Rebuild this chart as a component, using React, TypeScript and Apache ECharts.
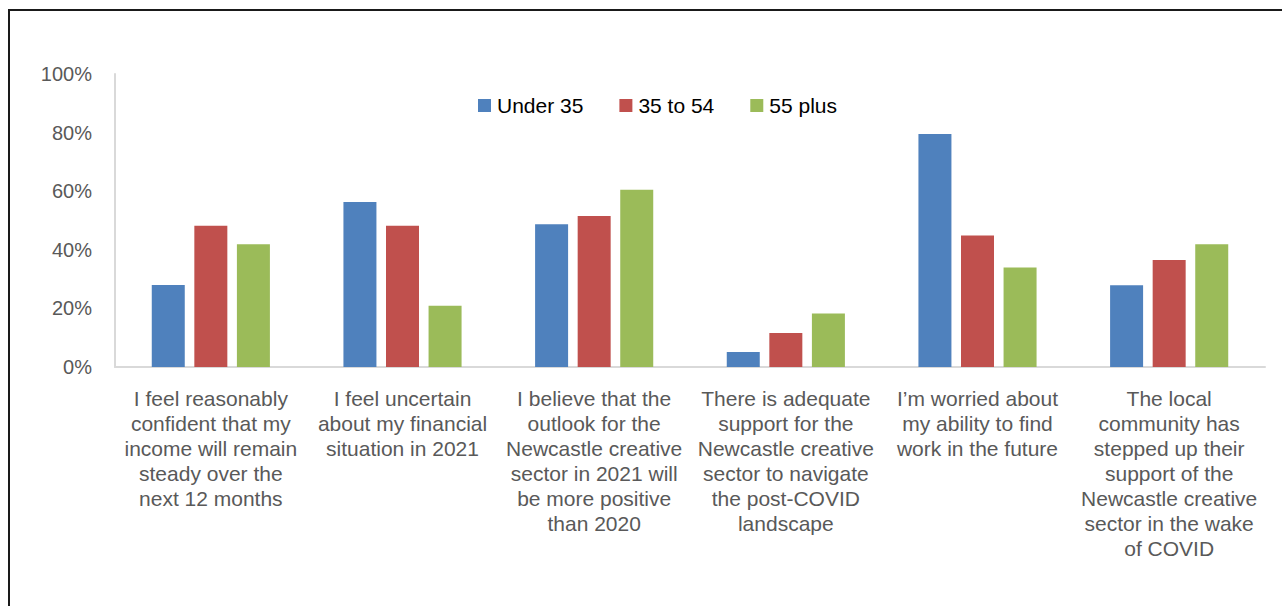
import React, { useEffect, useRef } from "react";
import * as echarts from "echarts";

const categories = [
  "I feel reasonably\nconfident that my\nincome will remain\nsteady over the\nnext 12 months",
  "I feel uncertain\nabout my financial\nsituation in 2021",
  "I believe that the\noutlook for the\nNewcastle creative\nsector in 2021 will\nbe more positive\nthan 2020",
  "There is adequate\nsupport for the\nNewcastle creative\nsector to navigate\nthe post-COVID\nlandscape",
  "I\u2019m worried about\nmy ability to find\nwork in the future",
  "The local\ncommunity has\nstepped up their\nsupport of the\nNewcastle creative\nsector in the wake\nof COVID",
];
const seriesNames = ["Under 35", "35 to 54", "55 plus"];
const under35 = [28, 56.3, 48.7, 5.1, 79.5, 27.9];
const age35to54 = [48.2, 48.2, 51.5, 11.6, 44.9, 36.5];
const age55plus = [41.9, 20.9, 60.5, 18.3, 34, 41.9];
const colors = ["#4F81BD", "#C0504D", "#9BBB59"];

const FONT = "'Liberation Sans', Arial, sans-serif";

export default function App() {
  const ref = useRef<HTMLDivElement>(null);
  useEffect(() => {
    document.body.style.margin = "0";
    const chart = echarts.init(ref.current!, null, { renderer: "svg" });
    const values = [under35, age35to54, age55plus];
    chart.setOption({
      animation: false,
      textStyle: { fontFamily: FONT },
      graphic: [
        {
          type: "polyline",
          shape: { points: [[9, 606], [9, 10], [1282, 10]] },
          style: { stroke: "#1a1a1a", lineWidth: 2, fill: null },
        },
      ],
      legend: {
        left: 473,
        top: 90,
        itemWidth: 13,
        itemHeight: 13,
        itemGap: 36,
        icon: "rect",
        textStyle: { fontSize: 21, color: "#000", fontFamily: FONT, padding: [0, 0, 0, 1] },
        data: seriesNames,
      },
      grid: { left: 115, right: 17, top: 74, bottom: 239, containLabel: false },
      xAxis: {
        type: "category",
        data: categories,
        axisLine: { show: true, lineStyle: { color: "#D9D9D9", width: 2 } },
        axisTick: { show: false },
        axisLabel: {
          interval: 0,
          color: "#595959",
          fontSize: 21,
          lineHeight: 25,
          margin: 19,
          align: "center",
          fontFamily: FONT,
        },
      },
      yAxis: {
        type: "value",
        min: 0,
        max: 100,
        interval: 20,
        axisLine: { show: true, lineStyle: { color: "#D9D9D9", width: 2 } },
        axisTick: { show: false },
        splitLine: { show: false },
        axisLabel: {
          color: "#595959",
          fontSize: 20,
          margin: 23,
          formatter: (v: number) => v + "%",
          fontFamily: FONT,
        },
      },
      series: seriesNames.map((name, i) => ({
        name,
        type: "bar",
        data: values[i],
        barWidth: 33,
        barGap: "29%",
        itemStyle: { color: colors[i] },
      })),
    });
    return () => chart.dispose();
  }, []);
  return <div ref={ref} style={{ width: 1282, height: 606 }} />;
}
